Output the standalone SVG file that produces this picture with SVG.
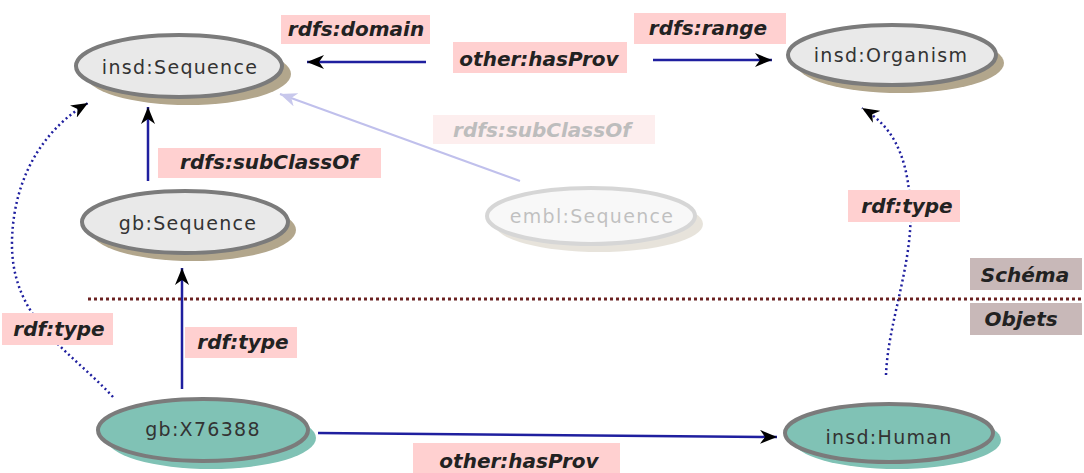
<svg xmlns="http://www.w3.org/2000/svg" width="1084" height="473" viewBox="0 0 1084 473">
<style>
.node{fill:#e9e9e9;stroke:#7b7b7b;stroke-width:4}
.sh{fill:#b2a68c}
.teal{fill:#80c2b5;stroke:#7b7b7b;stroke-width:4}
.tsh{fill:#80c2b5}
.nt{font-family:"DejaVu Sans",sans-serif;font-size:19px;letter-spacing:1.3px;fill:#333;text-anchor:middle;dominant-baseline:central}
.lb{fill:#ffd0d0}
.lt{font-family:"DejaVu Sans",sans-serif;font-size:20px;font-weight:bold;font-style:italic;fill:#222;text-anchor:middle;dominant-baseline:central}
.edge{fill:none;stroke:#1f1f9f;stroke-width:2.5}
.dot{fill:none;stroke:#1f1f9f;stroke-width:2.5;stroke-dasharray:2 3}
</style>
<defs>
<marker id="ah" markerUnits="userSpaceOnUse" markerWidth="18" markerHeight="14" viewBox="0 0 18 14" refX="17" refY="7" orient="auto">
<path d="M17 7 L0 0 L5 7 L0 14 Z" fill="#000"/>
</marker>
<marker id="ahf" markerUnits="userSpaceOnUse" markerWidth="18" markerHeight="14" viewBox="0 0 18 14" refX="17" refY="7" orient="auto">
<path d="M17 7 L0 0 L5 7 L0 14 Z" fill="#c8c8ec"/>
</marker>
</defs>
<g id="connectors">
<line class="edge" x1="426" y1="62" x2="307" y2="62" marker-end="url(#ah)"/>
<line class="edge" x1="653" y1="60" x2="772" y2="60" marker-end="url(#ah)"/>
<line class="edge" x1="148" y1="181" x2="148" y2="107" marker-end="url(#ah)"/>
<line x1="520" y1="181" x2="280" y2="94" stroke="#c0c0ec" stroke-width="2" marker-end="url(#ahf)"/>
<line class="edge" x1="182" y1="389" x2="182" y2="268" marker-end="url(#ah)"/>
<line class="edge" x1="318" y1="433" x2="777" y2="437" marker-end="url(#ah)"/>
<path class="dot" d="M113,397 C70,350 10,320 12,240 C14,170 50,125 88,103" marker-end="url(#ah)"/>
<path class="dot" d="M886,375 C888,320 915,260 910,200 C906,150 890,125 862,108" marker-end="url(#ah)"/>
<line x1="88" y1="299" x2="1084" y2="299" stroke="#6b2222" stroke-width="3" stroke-dasharray="3 3"/>
</g>
<g id="insd-sequence">
<ellipse class="sh" cx="188" cy="74" rx="103" ry="31"/>
<ellipse class="node" cx="179" cy="66" rx="103" ry="31"/>
<text class="nt" x="180" y="67">insd:Sequence</text>
</g>
<g id="insd-organism">
<ellipse class="sh" cx="900" cy="63" rx="104" ry="30"/>
<ellipse class="node" cx="892" cy="55" rx="104" ry="30"/>
<text class="nt" x="891" y="55">insd:Organism</text>
</g>
<g id="gb-sequence">
<ellipse class="sh" cx="193" cy="230" rx="103" ry="31"/>
<ellipse class="node" cx="185" cy="222" rx="103" ry="31"/>
<text class="nt" x="188" y="223">gb:Sequence</text>
</g>
<g id="embl-sequence" opacity="0.3">
<ellipse class="sh" cx="599" cy="224" rx="104" ry="28"/>
<ellipse class="node" cx="591" cy="216" rx="104" ry="28"/>
<text class="nt" x="592" y="216">embl:Sequence</text>
</g>
<g id="gb-x76388">
<ellipse class="tsh" cx="211" cy="438" rx="105" ry="31"/>
<ellipse class="teal" cx="203" cy="430" rx="105" ry="31"/>
<text class="nt" x="203" y="429">gb:X76388</text>
</g>
<g id="insd-human">
<ellipse class="tsh" cx="897" cy="440" rx="104" ry="29"/>
<ellipse class="teal" cx="889" cy="433" rx="104" ry="29"/>
<text class="nt" x="889" y="437">insd:Human</text>
</g>
<g id="labels">
<rect class="lb" x="281" y="15" width="149" height="29"/><text class="lt" x="356" y="29">rdfs:domain</text>
<rect class="lb" x="453" y="42" width="174" height="31"/><text class="lt" x="539" y="59">other:hasProv</text>
<rect class="lb" x="634" y="13" width="152" height="31"/><text class="lt" x="708" y="28">rdfs:range</text>
<rect x="433" y="115" width="222" height="29" fill="#fdeeee"/><text class="lt" x="542" y="130" style="fill:#bdbdbd">rdfs:subClassOf</text>
<rect class="lb" x="158" y="148" width="223" height="30"/><text class="lt" x="269" y="162">rdfs:subClassOf</text>
<rect class="lb" x="848" y="190" width="112" height="32"/><text class="lt" x="907" y="206">rdf:type</text>
<rect x="970" y="258" width="112" height="32" fill="#c8b8b8"/><text class="lt" x="1025" y="275">Schéma</text>
<rect x="970" y="303" width="112" height="32" fill="#c8b8b8"/><text class="lt" x="1021" y="319">Objets</text>
<rect class="lb" x="2" y="313" width="111" height="32"/><text class="lt" x="59" y="329">rdf:type</text>
<rect class="lb" x="185" y="327" width="112" height="31"/><text class="lt" x="243" y="342">rdf:type</text>
<rect class="lb" x="413" y="443" width="207" height="30"/><text class="lt" x="519" y="461">other:hasProv</text>
</g>
</svg>
